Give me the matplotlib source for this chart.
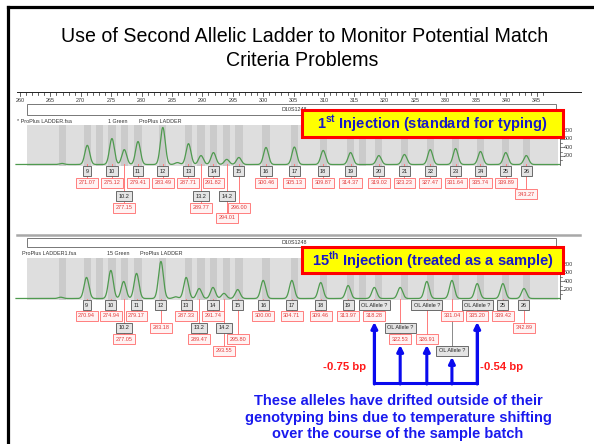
import numpy as np
import matplotlib
matplotlib.use("Agg")
import matplotlib.pyplot as plt
from matplotlib.patches import Rectangle

plt.rcParams['font.family'] = ['Liberation Sans', 'DejaVu Sans']
plt.rcParams['mathtext.fontset'] = 'custom'
plt.rcParams['mathtext.rm'] = 'Liberation Sans'
plt.rcParams['mathtext.bf'] = 'Liberation Sans:bold'

# ---------------- data ----------------
locus = "D10S1248"
ladder_alleles = ['9', '10', '10.2', '11', '12', '13', '13.2', '14', '14.2', '15',
                  '16', '17', '18', '19', '20', '21', '22', '23', '24', '25', '26']
# 1st injection: sizing run used to define the bins
sizes_inj1 = [271.07, 275.12, 277.15, 279.41, 283.49, 287.71, 289.77, 291.82, 294.01,
              296.00, 300.46, 305.13, 309.87, 314.37, 319.02, 323.23, 327.47, 331.64,
              335.74, 339.89, 343.27]
heights_inj1 = [450, 610, 350, 540, 870, 490, 210, 280, 120, 165, 400, 410, 330, 280,
                210, 235, 350, 375, 305, 280, 210]
# 15th injection: same ladder typed as a sample
calls_inj15 = ['9', '10', '10.2', '11', '12', '13', '13.2', '14', '14.2', '15', '16',
               '17', '18', '19', 'OL Allele ?', 'OL Allele ?', 'OL Allele ?',
               'OL Allele ?', 'OL Allele ?', '25', '26']
sizes_inj15 = [270.94, 274.94, 277.05, 279.17, 283.18, 287.33, 289.47, 291.74, 293.55,
               295.80, 300.00, 304.71, 309.46, 313.97, 318.28, 322.53, 326.91, 331.04,
               335.20, 339.42, 342.89]
heights_inj15 = [495, 660, 400, 590, 870, 495, 235, 260, 120, 210, 425, 425, 375, 305,
                 260, 260, 400, 425, 350, 350, 235]
# small non-allelic bumps
artifact_sizes_inj1 = [266.9, 285.9]
artifact_heights_inj1 = [25, 45]
artifact_sizes_inj15 = [266.7, 285.6]
artifact_heights_inj15 = [30, 40]
virtual_bins = [267.0, 273.1, 316.3]
ruler_labels = list(range(260, 346, 5))
rfu_labels = [200, 400, 600, 800]
drift_left = "-0.75 bp"
drift_right = "-0.54 bp"

# ---------------- geometry ----------------
W, H = 594, 444
PX_PER_BP = 6.08
RFU_PER_PX = 23.5


def bp_at(px):
    return 260.0 + (px - 20) / PX_PER_BP


XLIM = (bp_at(0), bp_at(W))

fig = plt.figure(figsize=(W / 100, H / 100), dpi=100)
fig.patch.set_facecolor('white')

# overlay: base pairs horizontally, pixels vertically
ov = fig.add_axes([0, 0, 1, 1], zorder=2)
ov.set_xlim(*XLIM)
ov.set_ylim(H, 0)
ov.axis('off')

# page: pixels both ways
pg = fig.add_axes([0, 0, 1, 1], zorder=3)
pg.set_xlim(0, W)
pg.set_ylim(H, 0)
pg.axis('off')

# slide frame
pg.plot([7.5, 7.5], [7.5, H], color='black', lw=2.3, solid_capstyle='projecting')
pg.plot([7.5, W], [7.5, 7.5], color='black', lw=2.3, solid_capstyle='projecting')

# title
pg.text(305, 36, "Use of Second Allelic Ladder to Monitor Potential Match",
        fontsize=14.1, ha='center', va='center', color='black')
pg.text(302, 60, "Criteria Problems", fontsize=14.1, ha='center', va='center',
        color='black')

TXT = dict(fontsize=3.9, color='#333333')


def trace_panel(top_px, base_px, sizes, heights, art_s, art_h):
    bottom_px = base_px + 1.0
    ax = fig.add_axes([0, 1 - bottom_px / H, 1, (bottom_px - top_px) / H], zorder=1)
    ax.set_xlim(*XLIM)
    ax.set_ylim((base_px - bottom_px) * RFU_PER_PX, (base_px - top_px) * RFU_PER_PX)
    ax.axis('off')
    ax.axvspan(bp_at(27), bp_at(558), color='#dedede', lw=0)
    for c in list(sizes_inj1) + virtual_bins:
        ax.axvspan(c - 0.6, c + 0.6, color='#cbcbcb', lw=0)
    x = np.arange(bp_at(16), bp_at(560), 0.02)
    y = np.zeros_like(x)
    for s, h in zip(list(sizes) + list(art_s), list(heights) + list(art_h)):
        y += h * np.exp(-0.5 * ((x - s) / 0.4) ** 2)
    ax.plot(x, y, color='#4f9a4f', lw=0.9)
    # RFU scale on the right
    xa = bp_at(560)
    ytop = (base_px - top_px) * RFU_PER_PX
    ax.plot([xa, xa], [0, ytop], color='#555555', lw=0.6, clip_on=False)
    for v in range(100, 900, 100):
        ln = 3.5 if v % 200 == 0 else 1.8
        ax.plot([xa, xa + ln / PX_PER_BP], [v, v], color='#555555', lw=0.5, clip_on=False)
    for v in rfu_labels:
        ax.text(xa + 4 / PX_PER_BP, v, str(v), va='center', ha='left', clip_on=False, **TXT)
    return ax


def header(bar_top, bar_bot, text_y, left_text, left_x, dye_text, dye_x, name_x):
    ov.add_patch(Rectangle((bp_at(27), bar_top), bp_at(556) - bp_at(27), bar_bot - bar_top,
                           facecolor='white', edgecolor='#777777', lw=0.7))
    ov.text(bp_at(281), (bar_top + bar_bot) / 2, locus, va='center', ha='left', **TXT)
    ov.text(bp_at(left_x), text_y, left_text, va='center', ha='left', **TXT)
    ov.text(bp_at(dye_x), text_y, dye_text, va='center', ha='left', **TXT)
    ov.text(bp_at(name_x), text_y, "ProPlus LADDER", va='center', ha='left', **TXT)


ALLELE_BOX = dict(boxstyle='square,pad=0.45', facecolor='#e4e4e4', edgecolor='#555555', lw=0.6)
SIZE_BOX = dict(boxstyle='square,pad=0.45', facecolor='#fff3f3', edgecolor='#ff6a6a', lw=0.6)


def label_peaks(sizes, calls, base_px, default_rows, rows):
    for i, (s, c) in enumerate(zip(sizes, calls)):
        ay, sy = rows.get(i, default_rows)
        ov.plot([s, s], [base_px, sy], color='#ff7a7a', lw=0.7, zorder=1)
        if ay > sy:
            ov.plot([s, s], [sy, ay], color='#8a8a8a', lw=0.7, zorder=1)
        ov.text(s, ay, c, ha='center', va='center', fontsize=4.0, color='#222222',
                bbox=ALLELE_BOX, zorder=3)
        ov.text(s, sy, f"{s:.2f}", ha='center', va='center', fontsize=4.0,
                color='#e23a3a', bbox=SIZE_BOX, zorder=3)


# ---------------- panel 1: 1st injection ----------------
# bp ruler
ov.plot([bp_at(17), bp_at(581)], [92, 92], color='#222222', lw=0.7)
for t in range(260, 347):
    ov.plot([t, t], [92, 95.5 if t % 5 else 96.5], color='#222222', lw=0.5)
for t in ruler_labels:
    ov.text(t, 100.5, str(t), ha='center', va='center', **TXT)

header(104, 115, 121, "* ProPlus LADDER.fsa", 17, "1 Green", 108, 139)
trace_panel(125, 164.5, sizes_inj1, heights_inj1, artifact_sizes_inj1, artifact_heights_inj1)
A1, S1, A2, S2, S3 = 171, 182.5, 196, 207.5, 217.5
label_peaks(sizes_inj1, ladder_alleles, 164.5, (A1, S1),
            {2: (A2, S2), 6: (A2, S2), 8: (A2, S3), 9: (A1, S2), 20: (A1, A2 - 2)})

# ---------------- panel 2: 15th injection ----------------
ov.plot([bp_at(17), bp_at(580)], [235, 235], color='#a8a8a8', lw=1.8)
header(238, 247, 253.5, "ProPlus LADDER1.fsa", 22, "15 Green", 107, 140)
trace_panel(258, 298.5, sizes_inj15, heights_inj15, artifact_sizes_inj15, artifact_heights_inj15)
B1, T1, B2, T2, B3 = 305, 315.5, 327.5, 339, 350.5
label_peaks(sizes_inj15, calls_inj15, 298.5, (B1, T1),
            {2: (B2, T2), 4: (B1, B2), 6: (B2, T2), 8: (B2, B3), 9: (B1, T2),
             15: (B2, T2), 16: (B1, T2), 17: (B3, T1), 20: (B1, B2)})

# ---------------- call-outs ----------------
BOX_TEXT = '#1818c8'
for y0, y1, label in [(110, 137, r"1$^{\mathbf{st}}$ Injection (standard for typing)"),
                      (247, 273, r"15$^{\mathbf{th}}$ Injection (treated as a sample)")]:
    pg.add_patch(Rectangle((302, y0), 261, y1 - y0, facecolor='#ffff00',
                           edgecolor='#ff0000', lw=2.2))
    pg.text(432.5, (y0 + y1) / 2 + 0.5, label, fontsize=10.5, fontweight='bold',
            color=BOX_TEXT, ha='center', va='center')

# bracket pointing at the drifted alleles
BLUE = '#0a0aee'
drifted = sizes_inj15[14:19]
tips = [322, 345, 345, 357, 322]
y_bot = 383
ov.plot([drifted[0], drifted[0], drifted[-1], drifted[-1]],
        [tips[0] + 6, y_bot, y_bot, tips[-1] + 6], color=BLUE, lw=2.2,
        solid_joinstyle='miter', zorder=4)
for s, t in zip(drifted, tips):
    ov.annotate('', xy=(s, t), xytext=(s, y_bot + 1.0),
                arrowprops=dict(arrowstyle='-|>', color=BLUE, lw=2.2,
                                mutation_scale=9, shrinkA=0, shrinkB=0),
                zorder=4)

pg.text(366, 367, drift_left, fontsize=8.2, fontweight='bold', color='#ff1a1a',
        ha='right', va='center')
pg.text(480, 367, drift_right, fontsize=8.2, fontweight='bold', color='#ff1a1a',
        ha='left', va='center')

pg.text(398, 417.5, "These alleles have drifted outside of their\n"
                    "genotyping bins due to temperature shifting\n"
                    "over the course of the sample batch",
        fontsize=10.5, fontweight='bold', color='#1a1aee', ha='center', va='center',
        linespacing=1.22)

fig.savefig('out.png', dpi=100)
